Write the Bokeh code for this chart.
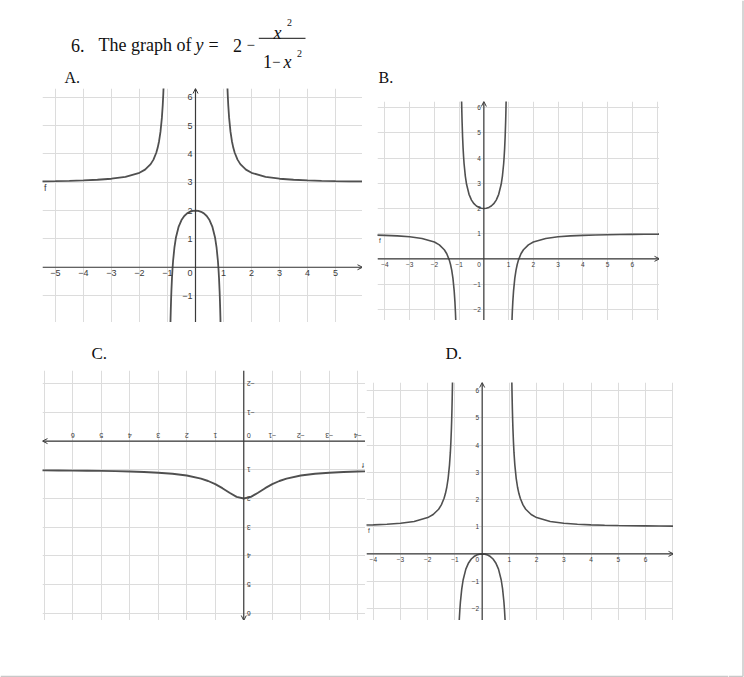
import math
from bokeh.plotting import figure
from bokeh.models import Range1d, Grid, FixedTicker, Arrow, OpenHead, Spacer
from bokeh.layouts import column, row
from bokeh.core.properties import value
from bokeh.embed import file_html
from bokeh.resources import INLINE

# ---------------- values ----------------
# Panel A
A_left_x = [-6.0, -5.5, -5.0, -4.5, -4.0, -3.5, -3.0, -2.5, -2.0, -1.8, -1.6, -1.5, -1.4, -1.35, -1.3, -1.25, -1.2, -1.17, -1.15, -1.14, -1.125]
A_left_y = [3.029, 3.034, 3.042, 3.052, 3.067, 3.089, 3.125, 3.190, 3.333, 3.446, 3.641, 3.800, 4.042, 4.216, 4.449, 4.778, 5.273, 5.711, 6.101, 6.338, 6.765]
A_right_x = [1.125, 1.14, 1.15, 1.17, 1.2, 1.25, 1.3, 1.35, 1.4, 1.5, 1.6, 1.8, 2.0, 2.5, 3.0, 3.5, 4.0, 4.5, 5.0, 5.5, 6.0]
A_right_y = [6.765, 6.338, 6.101, 5.711, 5.273, 4.778, 4.449, 4.216, 4.042, 3.800, 3.641, 3.446, 3.333, 3.190, 3.125, 3.089, 3.067, 3.052, 3.042, 3.034, 3.029]
A_mid_x = [-0.9, -0.89, -0.88, -0.87, -0.86, -0.84, -0.82, -0.8, -0.75, -0.7, -0.6, -0.5, -0.4, -0.3, -0.2, -0.1, 0.0,
           0.1, 0.2, 0.3, 0.4, 0.5, 0.6, 0.7, 0.75, 0.8, 0.82, 0.84, 0.86, 0.87, 0.88, 0.89, 0.9]
A_mid_y = [-2.263, -1.810, -1.433, -1.114, -0.840, -0.397, -0.053, 0.222, 0.714, 1.039, 1.438, 1.667, 1.810, 1.901, 1.958, 1.990, 2.0,
           1.990, 1.958, 1.901, 1.810, 1.667, 1.438, 1.039, 0.714, 0.222, -0.053, -0.397, -0.840, -1.114, -1.433, -1.810, -2.263]

# Panel B
B_left_x = [-4.5, -4.0, -3.5, -3.0, -2.5, -2.0, -1.8, -1.6, -1.5, -1.4, -1.35, -1.3, -1.25, -1.2, -1.17, -1.15, -1.13, -1.11]
B_left_y = [0.948, 0.933, 0.911, 0.875, 0.810, 0.667, 0.554, 0.359, 0.200, -0.042, -0.216, -0.449, -0.778, -1.273, -1.711, -2.101, -2.611, -3.308]
B_right_x = [1.11, 1.13, 1.15, 1.17, 1.2, 1.25, 1.3, 1.35, 1.4, 1.5, 1.6, 1.8, 2.0, 2.5, 3.0, 3.5, 4.0, 4.5, 5.0, 5.5, 6.0, 6.5, 7.0, 7.5]
B_right_y = [-3.308, -2.611, -2.101, -1.711, -1.273, -0.778, -0.449, -0.216, -0.042, 0.200, 0.359, 0.554, 0.667, 0.810, 0.875, 0.911, 0.933, 0.948, 0.958, 0.966, 0.971, 0.976, 0.979, 0.982]
B_mid_x = [-0.93, -0.92, -0.91, -0.9, -0.89, -0.88, -0.86, -0.84, -0.82, -0.8, -0.75, -0.7, -0.6, -0.5, -0.4, -0.3, -0.2, -0.1, 0.0,
           0.1, 0.2, 0.3, 0.4, 0.5, 0.6, 0.7, 0.75, 0.8, 0.82, 0.84, 0.86, 0.88, 0.89, 0.9, 0.91, 0.92, 0.93]
B_mid_y = [8.402, 7.510, 6.817, 6.263, 5.810, 5.433, 4.840, 4.397, 4.053, 3.778, 3.286, 2.961, 2.563, 2.333, 2.190, 2.099, 2.042, 2.010, 2.0,
           2.010, 2.042, 2.099, 2.190, 2.333, 2.563, 2.961, 3.286, 3.778, 4.053, 4.397, 4.840, 5.433, 5.810, 6.263, 6.817, 7.510, 8.402]

# Panel C (printed upside down in the source)
C_x = [-4.5, -4.0, -3.5, -3.0, -2.5, -2.0, -1.5, -1.25, -1.0, -0.75, -0.5, -0.25, 0.0, 0.25, 0.5, 0.75, 1.0, 1.25, 1.5,
       2.0, 2.5, 3.0, 3.5, 4.0, 4.5, 5.0, 5.5, 6.0, 6.5, 7.0, 7.5]
C_y = [1.047, 1.059, 1.075, 1.100, 1.138, 1.200, 1.308, 1.390, 1.500, 1.640, 1.800, 1.941, 2.000, 1.941, 1.800, 1.640, 1.500, 1.390, 1.308,
       1.200, 1.138, 1.100, 1.075, 1.059, 1.047, 1.038, 1.032, 1.027, 1.023, 1.020, 1.017]

# Panel D
D_left_x = [-4.5, -4.0, -3.5, -3.0, -2.5, -2.0, -1.8, -1.6, -1.5, -1.4, -1.35, -1.3, -1.25, -1.2, -1.17, -1.15, -1.13, -1.12, -1.11, -1.1, -1.09, -1.08]
D_left_y = [1.052, 1.067, 1.089, 1.125, 1.190, 1.333, 1.446, 1.641, 1.800, 2.042, 2.216, 2.449, 2.778, 3.273, 3.711, 4.101, 4.611, 4.931, 5.308, 5.762, 6.316, 7.010]
D_right_x = [1.08, 1.09, 1.1, 1.11, 1.12, 1.13, 1.15, 1.17, 1.2, 1.25, 1.3, 1.35, 1.4, 1.5, 1.6, 1.8, 2.0, 2.5, 3.0, 3.5, 4.0, 4.5, 5.0, 5.5, 6.0, 6.5, 7.0, 7.5]
D_right_y = [7.010, 6.316, 5.762, 5.308, 4.931, 4.611, 4.101, 3.711, 3.273, 2.778, 2.449, 2.216, 2.042, 1.800, 1.641, 1.446, 1.333, 1.190, 1.125, 1.089, 1.067, 1.052, 1.042, 1.034, 1.029, 1.024, 1.021, 1.018]
D_mid_x = [-0.87, -0.86, -0.85, -0.84, -0.82, -0.8, -0.75, -0.7, -0.6, -0.5, -0.4, -0.3, -0.2, -0.1, 0.0,
           0.1, 0.2, 0.3, 0.4, 0.5, 0.6, 0.7, 0.75, 0.8, 0.82, 0.84, 0.85, 0.86, 0.87]
D_mid_y = [-3.114, -2.840, -2.604, -2.397, -2.053, -1.778, -1.286, -0.961, -0.563, -0.333, -0.190, -0.099, -0.042, -0.010, 0.0,
           -0.010, -0.042, -0.099, -0.190, -0.333, -0.563, -0.961, -1.286, -1.778, -2.053, -2.397, -2.604, -2.840, -3.114]

# ticks and grid
A_grid_x = [-5, -4, -3, -2, -1, 0, 1, 2, 3, 4, 5]
A_grid_y = [-1, 0, 1, 2, 3, 4, 5, 6]
A_xticks = [-5, -4, -3, -2, -1, 1, 2, 3, 4, 5]
A_xtick_labels = ["\u22125", "\u22124", "\u22123", "\u22122", "\u22121", "1", "2", "3", "4", "5"]
A_yticks = [-1, 1, 2, 3, 4, 5, 6]
A_ytick_labels = ["\u22121", "1", "2", "3", "4", "5", "6"]

S_grid_x = [-4, -3, -2, -1, 0, 1, 2, 3, 4, 5, 6, 7]
S_grid_y = [-2, -1, 0, 1, 2, 3, 4, 5, 6]
S_xticks = [-4, -3, -2, -1, 1, 2, 3, 4, 5, 6]
S_xtick_labels = ["\u22124", "\u22123", "\u22122", "\u22121", "1", "2", "3", "4", "5", "6"]
S_yticks = [-2, -1, 1, 2, 3, 4, 5, 6]
S_ytick_labels = ["\u22122", "\u22121", "1", "2", "3", "4", "5", "6"]

# function-name labels ("f") near the left end of each curve
A_f = (-5.44, 3.03)
B_f = (-4.28, 0.94)
C_f = (-4.25, 1.05)
D_f = (-4.23, 1.057)

# ---------------- styling ----------------
SERIF = "Liberation Serif"
SANS = "Liberation Sans"
GRID = "#dcdcdc"
AXIS = "#3a3a3a"
CURVE = "#505050"
LAB = "#3a3a3a"
PAGE_LINE = "#c8c8c8"


def make_panel(w, h, xr, yr, gx, gy):
    p = figure(width=w, height=h, x_range=Range1d(*xr), y_range=Range1d(*yr),
               x_axis_type=None, y_axis_type=None, output_backend="svg",
               toolbar_location=None, min_border=0, outline_line_color=None,
               background_fill_color="white", border_fill_color="white")
    p.add_layout(Grid(dimension=0, ticker=FixedTicker(ticks=gx), grid_line_color=GRID, grid_line_width=1))
    p.add_layout(Grid(dimension=1, ticker=FixedTicker(ticks=gy), grid_line_color=GRID, grid_line_width=1))
    xlo, xhi = min(xr), max(xr)
    ylo, yhi = min(yr), max(yr)
    p.add_layout(Arrow(end=OpenHead(size=5, line_color=AXIS, line_width=1),
                       x_start=xlo, y_start=0, x_end=xhi, y_end=0, line_color=AXIS, line_width=1.2))
    p.add_layout(Arrow(end=OpenHead(size=5, line_color=AXIS, line_width=1),
                       x_start=0, y_start=ylo, x_end=0, y_end=yhi, line_color=AXIS, line_width=1.2))
    return p


def add_labels(p, xt, xl, yt, yl, fs, fpos, rot=False):
    s = -1 if rot else 1
    ang = math.pi if rot else 0.0
    common = dict(text_font=value(SANS), text_font_size=f"{fs}px", text_color=LAB, angle=ang)
    p.text(x=xt, y=[0] * len(xt), text=xl, text_align="center", text_baseline="top",
           y_offset=3 * s, **common)
    p.text(x=[0] * len(yt), y=yt, text=yl, text_align="right", text_baseline="middle",
           x_offset=-3 * s, **common)
    p.text(x=[0], y=[0], text=["0"], text_align="right", text_baseline="top",
           x_offset=-3 * s, y_offset=3 * s, **common)
    p.text(x=[fpos[0]], y=[fpos[1]], text=["f"], text_align="left", text_baseline="top",
           x_offset=1 * s, y_offset=2 * s, **common)


# Panel A
pA = make_panel(320, 234, (-5.46, 5.96), (-1.95, 6.31), A_grid_x, A_grid_y)
for xs, ys in ((A_left_x, A_left_y), (A_mid_x, A_mid_y), (A_right_x, A_right_y)):
    pA.line(xs, ys, line_color=CURVE, line_width=1.8)
add_labels(pA, A_xticks, A_xtick_labels, A_yticks, A_ytick_labels, 9, A_f)

# Panel B
pB = make_panel(282, 219, (-4.30, 7.10), (-2.45, 6.25), S_grid_x, S_grid_y)
for xs, ys in ((B_left_x, B_left_y), (B_mid_x, B_mid_y), (B_right_x, B_right_y)):
    pB.line(xs, ys, line_color=CURVE, line_width=1.6)
add_labels(pB, S_xticks, S_xtick_labels, S_yticks, S_ytick_labels, 6.5, B_f)

# Panel C : reversed ranges (the graph is printed rotated by 180 degrees)
pC = make_panel(323, 250, (7.06, -4.27), (6.25, -2.46), S_grid_x, S_grid_y)
pC.line(C_x, C_y, line_color=CURVE, line_width=1.9)
add_labels(pC, S_xticks, S_xtick_labels, S_yticks, S_ytick_labels, 7, C_f, rot=True)

# Panel D
pD = make_panel(307, 238, (-4.25, 7.03), (-2.45, 6.30), S_grid_x, S_grid_y)
for xs, ys in ((D_left_x, D_left_y), (D_mid_x, D_mid_y), (D_right_x, D_right_y)):
    pD.line(xs, ys, line_color=CURVE, line_width=1.6)
add_labels(pD, S_xticks, S_xtick_labels, S_yticks, S_ytick_labels, 6.5, D_f)


# ---------------- text strips (page pixel coordinates) ----------------
def strip(w, h, x0, y0):
    t = figure(width=w, height=h, x_range=Range1d(x0, x0 + w), y_range=Range1d(y0 + h, y0),
               x_axis_type=None, y_axis_type=None, output_backend="svg",
               toolbar_location=None, min_border=0, outline_line_color=None,
               background_fill_color="white", border_fill_color="white")
    t.grid.visible = False
    return t


def stext(t, x, y, s, size, italic=False, baseline="alphabetic"):
    t.text(x=[x], y=[y], text=[s], text_font=value(SERIF), text_font_size=f"{size}px",
           text_font_style="italic" if italic else "normal", text_color="#111111",
           text_align="left", text_baseline=baseline)


t1 = strip(728, 88, 0, 0)
stext(t1, 70.5, 44.5, "6.", 18)
stext(t1, 98.0, 44.5, "The graph of", 18)
stext(t1, 195.0, 44.5, "y", 18, italic=True)
stext(t1, 208.0, 44.5, "=", 18)
stext(t1, 232.5, 44.5, "2", 18)
stext(t1, 246.0, 44.5, "\u2212", 15)
t1.segment(x0=[258.3], y0=[37.8], x1=[305.0], y1=[37.8], line_color="#111111", line_width=1)
stext(t1, 273.0, 32.5, "x", 18, italic=True)
stext(t1, 286.5, 21.5, "2", 10)
stext(t1, 262.5, 61.0, "1", 18)
stext(t1, 271.5, 61.0, "\u2212", 15)
stext(t1, 283.0, 61.0, "x", 18, italic=True)
stext(t1, 296.5, 53.0, "2", 10)
stext(t1, 64.0, 85.0, "A.", 16, baseline="bottom")
stext(t1, 378.0, 85.0, "B.", 16, baseline="bottom")

t2 = strip(728, 48, 0, 322)
stext(t2, 91.0, 352.7, "C.", 17)
stext(t2, 445.0, 352.7, "D.", 17)

# bottom strip with the page's bottom rule, right strip with the page's right rule
t3 = strip(728, 57, 0, 620)
t3.segment(x0=[0], y0=[676], x1=[728], y1=[676], line_color=PAGE_LINE, line_width=1.5)
t4 = strip(16, 677, 728, 0)
t4.segment(x0=[742.5], y0=[0], x1=[742.5], y1=[676], line_color=PAGE_LINE, line_width=1.5)
t4.segment(x0=[728], y0=[676], x1=[742.5], y1=[676], line_color=PAGE_LINE, line_width=1.5)

r1 = row(Spacer(width=42, height=234), pA, Spacer(width=15, height=234),
         column(Spacer(width=282, height=13), pB))
r2 = row(Spacer(width=42, height=250), pC, Spacer(width=1, height=250),
         column(Spacer(width=307, height=12), pD))
layout = row(column(t1, r1, t2, r2, t3), t4)

open("out.html", "w").write(file_html(layout, INLINE))
